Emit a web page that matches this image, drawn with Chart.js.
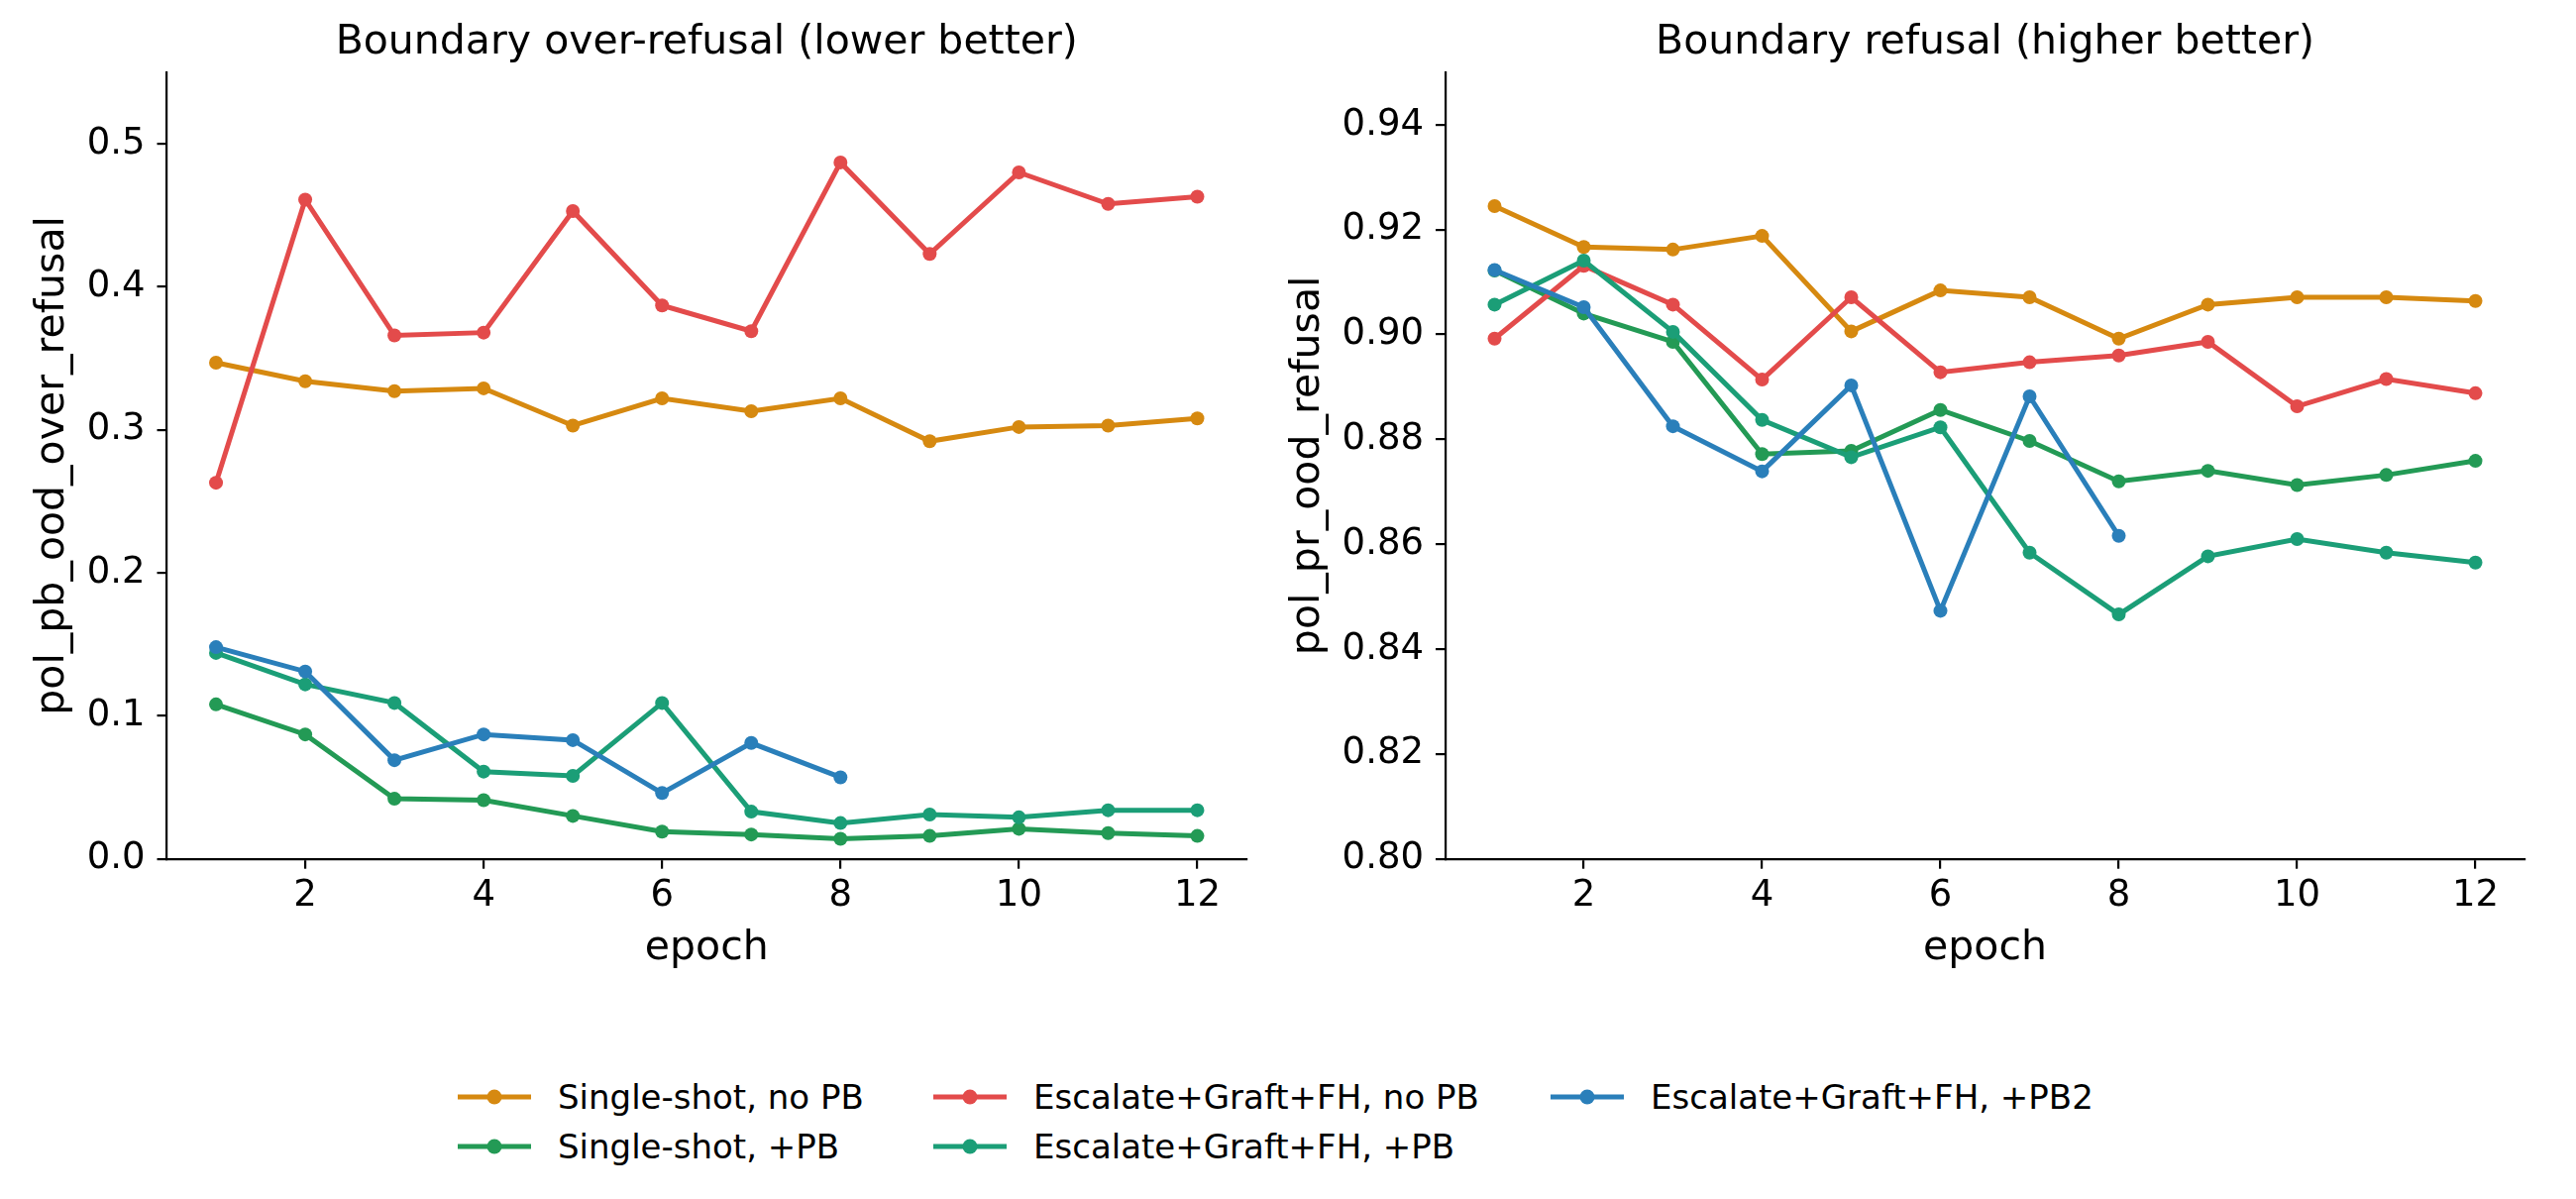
<!DOCTYPE html>
<html>
<head>
<meta charset="utf-8">
<script src="https://cdn.jsdelivr.net/npm/chart.js@4"></script>
<style>
  html, body { margin: 0; padding: 0; background: #fff; }
  #wrap { position: relative; width: 2600px; height: 1210px; overflow: hidden; background: #fff; font-family: "DejaVu Sans", sans-serif; }
  canvas { position: absolute; top: 0; }
  #c1 { left: 0; }
  #c2 { left: 1290px; }
  .lg { position: absolute; height: 40px; display: flex; align-items: center; white-space: nowrap; font-size: 34px; color: #000; }
  .lg svg { flex: 0 0 auto; margin-right: 27px; }
</style>
</head>
<body>
<div id="wrap">
  <canvas id="c1" width="1300" height="982"></canvas>
  <canvas id="c2" width="1310" height="982"></canvas>
  <div id="legend"></div>
</div>
<script>
// ---------- data ----------
const epochs = [1, 2, 3, 4, 5, 6, 7, 8, 9, 10, 11, 12];
const seriesNames = [
  "Single-shot, no PB",
  "Single-shot, +PB",
  "Escalate+Graft+FH, no PB",
  "Escalate+Graft+FH, +PB",
  "Escalate+Graft+FH, +PB2"
];
const seriesColors = ["#d68910", "#239a55", "#e34b4b", "#1b9e77", "#2a7fba"];

// Boundary over-refusal (pol_pb_ood_over_refusal)
const singleNoPB_over = [0.347, 0.334, 0.327, 0.329, 0.303, 0.322, 0.313, 0.322, 0.292, 0.302, 0.303, 0.308];
const singlePB_over   = [0.108, 0.087, 0.042, 0.041, 0.030, 0.019, 0.017, 0.014, 0.016, 0.021, 0.018, 0.016];
const escNoPB_over    = [0.263, 0.461, 0.366, 0.368, 0.453, 0.387, 0.369, 0.487, 0.423, 0.480, 0.458, 0.463];
const escPB_over      = [0.144, 0.122, 0.109, 0.061, 0.058, 0.109, 0.033, 0.025, 0.031, 0.029, 0.034, 0.034];
const escPB2_over     = [0.148, 0.131, 0.069, 0.087, 0.083, 0.046, 0.081, 0.057];

// Boundary refusal (pol_pr_ood_refusal)
const singleNoPB_ref = [0.9245, 0.9167, 0.9162, 0.9188, 0.9006, 0.9084, 0.9071, 0.8992, 0.9057, 0.9071, 0.9071, 0.9064];
const singlePB_ref   = [0.9122, 0.9040, 0.8986, 0.8772, 0.8778, 0.8856, 0.8797, 0.8720, 0.8740, 0.8713, 0.8732, 0.8759];
const escNoPB_ref    = [0.8992, 0.9131, 0.9057, 0.8914, 0.9071, 0.8928, 0.8947, 0.8960, 0.8986, 0.8863, 0.8915, 0.8888];
const escPB_ref      = [0.9057, 0.9141, 0.9005, 0.8837, 0.8766, 0.8823, 0.8584, 0.8466, 0.8577, 0.8610, 0.8584, 0.8565];
const escPB2_ref     = [0.9123, 0.9052, 0.8825, 0.8739, 0.8903, 0.8473, 0.8882, 0.8616];

// ticks
const xTicks = [2, 4, 6, 8, 10, 12];
const xTickLabels = ["2", "4", "6", "8", "10", "12"];
const yTicksLeft = [0.0, 0.1, 0.2, 0.3, 0.4, 0.5];
const yTickLabelsLeft = ["0.0", "0.1", "0.2", "0.3", "0.4", "0.5"];
const yTicksRight = [0.80, 0.82, 0.84, 0.86, 0.88, 0.90, 0.92, 0.94];
const yTickLabelsRight = ["0.80", "0.82", "0.84", "0.86", "0.88", "0.90", "0.92", "0.94"];

const titles = ["Boundary over-refusal (lower better)", "Boundary refusal (higher better)"];
const yTitles = ["pol_pb_ood_over_refusal", "pol_pr_ood_refusal"];
const xTitle = "epoch";

// ---------- helpers ----------
const FONT = "DejaVu Sans";
function pts(vals) { return vals.map((v, i) => ({ x: epochs[i], y: v })); }
function makeDatasets(list) {
  return list.map((vals, i) => ({
    label: seriesNames[i],
    data: pts(vals),
    borderColor: seriesColors[i],
    backgroundColor: seriesColors[i],
    pointBackgroundColor: seriesColors[i],
    pointBorderColor: seriesColors[i],
    pointBorderWidth: 0,
    pointRadius: 7,
    borderWidth: 5,
    tension: 0,
    fill: false,
    order: list.length - i
  }));
}

function makeChart(id, datasets, cfg) {
  const axisCommon = {
    grid: { drawOnChartArea: false, drawTicks: true, tickLength: 10, color: "#000", lineWidth: 2.2 },
    border: { display: true, color: "#000", width: 2.2 }
  };
  return new Chart(document.getElementById(id), {
    type: "line",
    data: { datasets },
    options: {
      responsive: false,
      animation: false,
      devicePixelRatio: 1,
      layout: { padding: { left: 0, right: cfg.padRight, top: 0, bottom: 0 } },
      plugins: {
        legend: { display: false },
        tooltip: { enabled: false },
        title: {
          display: true, fullSize: false, text: cfg.title, color: "#000",
          font: { family: FONT, size: 41, weight: "normal" },
          padding: { top: 19, bottom: 4.8 }
        }
      },
      scales: {
        x: Object.assign({}, axisCommon, {
          type: "linear", min: 0.45, max: 12.55,
          afterBuildTicks: s => { s.ticks = xTicks.map(v => ({ value: v })); },
          afterFit: s => { s.height = 115.3; },
          ticks: { color: "#000", font: { family: FONT, size: 37 }, padding: 5, maxRotation: 0, autoSkip: false,
                   callback: (v, i) => xTickLabels[i] },
          title: { display: true, text: xTitle, color: "#000", font: { family: FONT, size: 41 }, padding: 0 }
        }),
        y: Object.assign({}, axisCommon, {
          type: "linear", min: cfg.yMin, max: cfg.yMax,
          afterBuildTicks: s => { s.ticks = cfg.yTicks.map(v => ({ value: v })); },
          afterFit: s => { s.width = cfg.yWidth; },
          ticks: { color: "#000", font: { family: FONT, size: 37 }, padding: 12, autoSkip: false,
                   callback: (v, i) => cfg.yLabels[i] },
          title: { display: true, text: cfg.yTitle, color: "#000", font: { family: FONT, size: 41 },
                   padding: { top: cfg.yTitlePad, bottom: 0 } }
        })
      }
    }
  });
}

makeChart("c1",
  makeDatasets([singleNoPB_over, singlePB_over, escNoPB_over, escPB_over, escPB2_over]),
  { title: titles[0], yTitle: yTitles[0], yMin: 0, yMax: 0.55, yTicks: yTicksLeft, yLabels: yTickLabelsLeft,
    yWidth: 168.5, padRight: 42, yTitlePad: 29 });

makeChart("c2",
  makeDatasets([singleNoPB_ref, singlePB_ref, escNoPB_ref, escPB_ref, escPB2_ref]),
  { title: titles[1], yTitle: yTitles[1], yMin: 0.80, yMax: 0.95, yTicks: yTicksRight, yLabels: yTickLabelsRight,
    yWidth: 169, padRight: 52, yTitlePad: 6 });

// ---------- legend (column-major like the reference) ----------
const legendSlots = [
  { i: 0, x: 462, y: 1107 },
  { i: 1, x: 462, y: 1157 },
  { i: 2, x: 942, y: 1107 },
  { i: 3, x: 942, y: 1157 },
  { i: 4, x: 1565, y: 1107 }
];
const lg = document.getElementById("legend");
legendSlots.forEach(s => {
  const d = document.createElement("div");
  d.className = "lg";
  d.style.left = s.x + "px";
  d.style.top = (s.y - 20) + "px";
  const c = seriesColors[s.i];
  d.innerHTML = '<svg width="74" height="20" viewBox="0 0 74 20">' +
    '<line x1="0" y1="10" x2="74" y2="10" stroke="' + c + '" stroke-width="5"/>' +
    '<circle cx="37" cy="10" r="7.5" fill="' + c + '"/></svg>';
  const t = document.createElement("span");
  t.textContent = seriesNames[s.i];
  d.appendChild(t);
  lg.appendChild(d);
});
</script>
</body>
</html>
